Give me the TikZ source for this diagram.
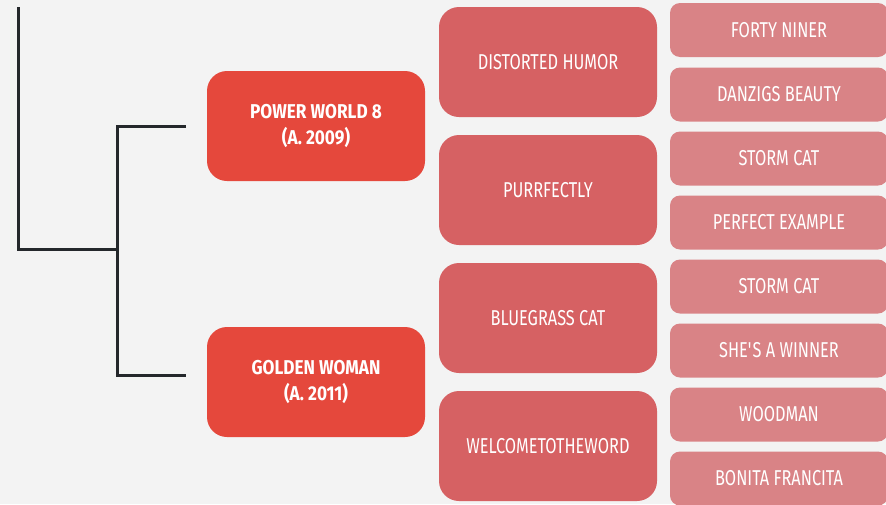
\documentclass[tikz,border=0pt]{standalone}
\usepackage{fontspec}
\setmainfont{Fira Sans}[FakeStretch=0.76,BoldFeatures={FakeStretch=0.86}]
\definecolor{bgpaper}{HTML}{F3F3F3}
\definecolor{sirered}{HTML}{E5483C}
\definecolor{grandred}{HTML}{D66163}
\definecolor{greatred}{HTML}{D98386}
\definecolor{linedark}{HTML}{24272B}
\begin{document}
\begin{tikzpicture}[x=1pt,y=-1pt,
    sire/.style={rectangle,rounded corners=20pt,fill=sirered,text=white,
        minimum width=218pt,minimum height=110pt,align=center,
        font=\fontsize{20}{26}\selectfont\bfseries},
    grand/.style={rectangle,rounded corners=20pt,fill=grandred,text=white,
        minimum width=218pt,minimum height=110pt,align=center,
        font=\fontsize{21.5}{26}\selectfont},
    great/.style={rectangle,rounded corners=10pt,fill=greatred,text=white,
        minimum width=218pt,minimum height=54pt,align=center,
        font=\fontsize{21.5}{26}\selectfont},
    tree/.style={draw=linedark,line width=3pt,line join=miter}]
        \fill[bgpaper] (0,0) rectangle (886,504);
        \useasboundingbox (0,0) rectangle (886,504);

        \coordinate (top) at (18,7);
        \coordinate (knee) at (117,249);
        \coordinate (upend) at (186,126);
        \coordinate (lowend) at (186,375);
        \draw[tree] (top) |- (knee);
        \draw[tree] (upend) -| (knee) |- (lowend);

        \node[sire] (power) at (316,126) {POWER WORLD 8\\(A. 2009)};
        \node[sire] (golden) at (316,382) {GOLDEN WOMAN\\(A. 2011)};

        \node[grand] (distorted) at (548,62) {DISTORTED HUMOR};
        \node[grand] (purrfectly) at (548,190) {PURRFECTLY};
        \node[grand] (bluegrass) at (548,318) {BLUEGRASS CAT};
        \node[grand] (welcome) at (548,446) {WELCOMETOTHEWORD};

        \node[great] (forty) at (779,30) {FORTY NINER};
        \node[great] (danzigs) at (779,94.5) {DANZIGS BEAUTY};
        \node[great] (stormA) at (779,158.5) {STORM CAT};
        \node[great] (perfect) at (779,222.5) {PERFECT EXAMPLE};
        \node[great] (stormB) at (779,286.5) {STORM CAT};
        \node[great] (winner) at (779,350.5) {SHE\textquotesingle S A WINNER};
        \node[great] (woodman) at (779,414.5) {WOODMAN};
        \node[great] (bonita) at (779,478.5) {BONITA FRANCITA};
\end{tikzpicture}
\end{document}
